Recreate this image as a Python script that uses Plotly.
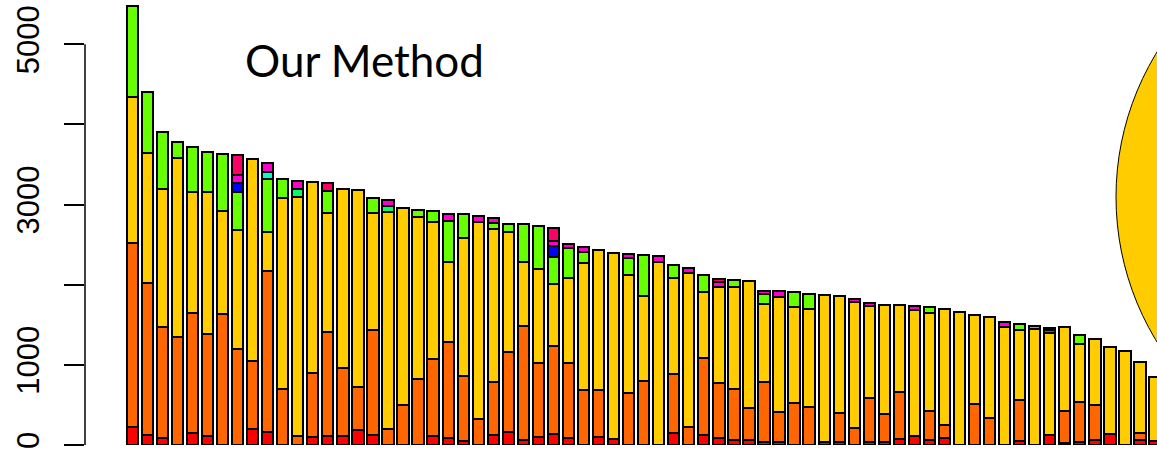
import plotly.graph_objects as go

# stacked segment values per bar (bottom -> top)
red = [228, 125, 83, 0, 146, 112, 0, 0, 200, 166, 0, 0, 96, 112, 116, 187, 125, 0, 0, 0,
       112, 83, 54, 0, 125, 166, 62, 104, 133, 91, 0, 104, 75, 0, 0, 0, 146, 0, 125, 83,
       62, 62, 33, 42, 0, 0, 42, 42, 0, 42, 42, 79, 116, 62, 91, 0, 0, 0, 0, 50,
       0, 125, 21, 42, 62, 137, 0, 62, 54]
orange = [2289, 1901, 1386, 1352, 1505, 1273, 1631, 1198, 852, 2006, 695, 116, 799, 1295, 849, 541, 1306, 200, 499, 820,
          961, 1206, 811, 324, 657, 998, 1427, 923, 1103, 928, 686, 582, 0, 645, 799, 0, 736, 228, 957, 687,
          633, 404, 749, 374, 528, 478, 0, 353, 208, 540, 341, 586, 0, 362, 159, 0, 508, 341, 0, 512,
          0, 0, 403, 491, 437, 0, 0, 92, 0]
yellow = [1830, 1622, 1722, 2234, 1503, 1769, 1285, 1485, 2514, 490, 2384, 2983, 2391, 1485, 2230, 2454, 1461, 2708, 2455, 2021,
          1714, 999, 1722, 2463, 1914, 1490, 791, 1166, 769, 1069, 1589, 1748, 2325, 1477, 1061, 2288, 1206, 1922, 824, 1198,
          1273, 1581, 974, 1435, 1198, 1215, 1830, 1465, 1581, 1153, 1368, 1086, 1569, 1220, 1447, 1656, 1118, 1260, 1476, 873,
          1444, 1275, 1045, 724, 820, 1082, 1177, 886, 791]
green = [1134, 762, 711, 192, 561, 499, 720, 478, 0, 654, 241, 0, 0, 282, 0, 0, 194, 0, 0, 92,
         133, 511, 296, 0, 71, 104, 478, 544, 345, 366, 130, 0, 0, 208, 511, 0, 158, 0, 216, 0,
         91, 0, 124, 0, 183, 191, 0, 0, 0, 0, 0, 0, 0, 82, 0, 0, 0, 0, 0, 75,
         0, 0, 0, 116, 0, 0, 0, 0, 0]
seagreen = [0] * 69
seagreen[11] = 100
seagreen[17] = 79
seagreen[60] = 41
cyan = [0] * 69
cyan[9] = 91
blue = [0] * 69
blue[7] = 105
blue[28] = 138
magenta = [0] * 69
for i, v in {7: 105, 9: 109, 11: 96, 17: 67, 21: 84, 23: 71, 24: 62, 28: 58, 29: 54, 30: 70,
             33: 53, 35: 71, 37: 55, 39: 70, 42: 42, 43: 75, 48: 33, 49: 37, 52: 54, 58: 55,
             61: 35}.items():
    magenta[i] = v
crimson = [0] * 69
for i, v in {7: 250, 13: 96, 28: 158, 39: 34, 61: 30}.items():
    crimson[i] = v

series = [
    ("red", red, "#FF0000"),
    ("orange", orange, "#FF6600"),
    ("yellow", yellow, "#FFCC00"),
    ("green", green, "#66FF00"),
    ("seagreen", seagreen, "#00FF66"),
    ("cyan", cyan, "#00FFCC"),
    ("blue", blue, "#0000FF"),
    ("magenta", magenta, "#FF00CC"),
    ("crimson", crimson, "#FF0066"),
]

y_ticks = [0, 1000, 2000, 3000, 4000, 5000]
y_tick_text = ["0", "1000", "", "3000", "", "5000"]

x = list(range(len(red)))

fig = go.Figure()
for name, vals, col in series:
    fig.add_trace(go.Bar(
        x=x, y=vals, name=name,
        marker=dict(color=col, line=dict(color="black", width=2.0)),
        showlegend=False, hoverinfo="skip",
    ))

W, H = 1157, 455
ml, mb = 85, 10
ppu = 15.04
x0 = -(132.3 - ml) / ppu
x1 = x0 + (W - ml) / ppu
ymax = (H - mb) / 0.08014

fig.update_layout(
    width=W, height=H,
    margin=dict(l=ml, r=0, t=0, b=mb, pad=0),
    barmode="stack", bargap=0.25,
    plot_bgcolor="white", paper_bgcolor="white",
    xaxis=dict(range=[x0, x1], visible=False, showgrid=False, zeroline=False),
    yaxis=dict(range=[0, ymax], showgrid=False, zeroline=False, showline=False,
               tickmode="array", tickvals=y_ticks, ticktext=y_tick_text,
               ticks="outside", ticklen=20, tickwidth=1.5, tickcolor="black",
               tickangle=-90, ticklabelstandoff=13,
               tickfont=dict(family="Liberation Sans, Arial", size=31, color="black")),
    shapes=[
        dict(type="line", xref="paper", yref="y", x0=0, x1=0,
             y0=y_ticks[0], y1=y_ticks[-1], line=dict(color="black", width=1.5)),
        dict(type="circle", xref="paper", yref="paper",
             x0=(1116 - ml) / (W - ml), x1=(1116 + 554 - ml) / (W - ml),
             y0=(H - mb - 474) / (H - mb), y1=(H - mb + 80) / (H - mb),
             fillcolor="#FFCC00", line=dict(color="black", width=1), layer="above"),
    ],
    annotations=[dict(text="Our Method", xref="paper", yref="paper",
                      x=(364 - ml) / (W - ml), y=(H - mb - 60) / (H - mb),
                      xanchor="center", yanchor="middle", showarrow=False,
                      font=dict(family="Lato", size=44, color="black"))],
)

fig.write_html("out.html")
